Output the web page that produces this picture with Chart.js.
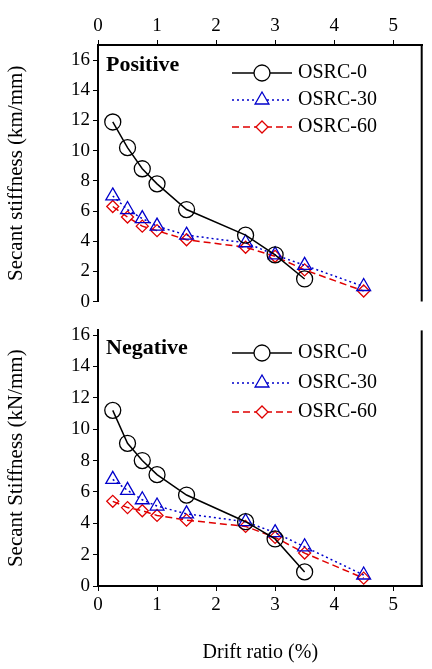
<!DOCTYPE html><html><head><script src="https://cdn.jsdelivr.net/npm/chart.js"></script>
<style>body{margin:0;background:#fff;width:432px;height:669px;position:relative;overflow:hidden}
#a{position:absolute;left:0;top:0}#b{position:absolute;left:0;top:316px}</style></head><body>
<div id="a" style="width:432px;height:316px"><canvas id="c1"></canvas></div>
<div id="b" style="width:432px;height:353px"><canvas id="c2"></canvas></div>
<script>
const drift0=[0.25,0.5,0.75,1,1.5,2.5,3,3.5];
const drift=[0.25,0.5,0.75,1,1.5,2.5,3,3.5,4.5];
const posO0=[11.9,10.2,8.8,7.8,6.1,4.4,3.1,1.5];
const posO30=[7.0,6.1,5.5,5.0,4.4,3.9,3.1,2.4,1.0];
const posO60=[6.3,5.6,5.0,4.7,4.1,3.6,3.0,2.1,0.7];
const negO0=[11.2,9.1,8.0,7.1,5.8,4.1,3.0,0.9];
const negO30=[6.8,6.1,5.5,5.1,4.6,4.1,3.4,2.5,0.7];
const negO60=[5.4,5.0,4.8,4.5,4.2,3.8,3.1,2.1,0.5];
const yTicks=[0,2,4,6,8,10,12,14,16];
const xTicks=[0,1,2,3,4,5];
const names=['OSRC-0','OSRC-30','OSRC-60'];
const F='"Liberation Serif", serif';
const sty=[{c:'#000',p:'circle',r:8,d:[]},{c:'#0000cc',p:'triangle',r:8,d:[2,3]},{c:'#e00000',p:'rectRot',r:6,d:[7,4]}];
function ds(xs,ys,i){return{label:names[i],data:xs.map((x,k)=>({x,y:ys[k]})),borderColor:sty[i].c,borderWidth:1.5,borderDash:sty[i].d,pointStyle:sty[i].p,pointRadius:sty[i].r,pointBorderColor:sty[i].c,pointBackgroundColor:'rgba(255,255,255,0)',pointBorderWidth:1.3,showLine:true,fill:false};}
function leg(title,rows){return{id:'leg',afterDraw(ch){const g=ch.ctx;g.save();g.fillStyle='#000';g.font='bold 22px '+F;g.textBaseline='middle';g.fillText(title,106,rows.t);
const a=ch.chartArea;g.strokeStyle='#000';g.lineWidth=2;g.beginPath();g.moveTo(a.right-1,a.top);g.lineTo(a.right-1,a.bottom);g.stroke();
rows.y.forEach((y,i)=>{g.strokeStyle=sty[i].c;g.lineWidth=1.5;g.setLineDash(sty[i].d);g.beginPath();g.moveTo(232,y);g.lineTo(292,y);g.stroke();g.setLineDash([]);
g.fillStyle='#fff';g.strokeStyle=sty[i].c;g.lineWidth=1.3;
Chart.helpers.drawPoint(g,{pointStyle:sty[i].p,radius:sty[i].r,borderWidth:1.3},262,y);g.fillStyle='#000';g.font='20px '+F;g.fillText(names[i],298,y);});g.restore();}};}
function mk(id,top,sets,ymax,ylab,title,rows,xH){
 new Chart(document.getElementById(id),{type:'scatter',data:{datasets:sets},plugins:[leg(title,rows)],
 options:{animation:false,responsive:true,maintainAspectRatio:false,layout:{padding:{right:-12,bottom:top?1:0}},
 plugins:{legend:{display:false},tooltip:{enabled:false}},
 scales:{x:{type:'linear',position:top?'top':'bottom',min:0,max:5.5,border:{color:'#000',width:2},
  afterBuildTicks:s=>{s.ticks=xTicks.map(v=>({value:v}));},
  ticks:{color:'#000',font:{family:F,size:19}},
  grid:{drawOnChartArea:false,color:'#000',tickLength:5},
  title:{display:!top,text:'Drift ratio (%)',color:'#000',font:{family:F,size:20}},afterFit:s=>{s.height=xH;}},
 y:{min:0,max:ymax,border:{color:'#000',width:2},afterBuildTicks:s=>{s.ticks=yTicks.map(v=>({value:v}));},
  ticks:{color:'#000',font:{family:F,size:19}},
  grid:{drawOnChartArea:false,color:'#000',tickLength:5},
  title:{display:true,text:ylab,color:'#000',font:{family:F,size:21}},afterFit:s=>{s.width=98;}}}}});
}
mk('c1',true,[ds(drift0,posO0,0),ds(drift,posO30,1),ds(drift,posO60,2)],17,'Secant stiffness (km/mm)','Positive',{t:65,y:[73,100,127]},45);
mk('c2',false,[ds(drift0,negO0,0),ds(drift,negO30,1),ds(drift,negO60,2)],16.3,'Secant Stiffness (kN/mm)','Negative',{t:32,y:[37,67,96]},83);
</script></body></html>
